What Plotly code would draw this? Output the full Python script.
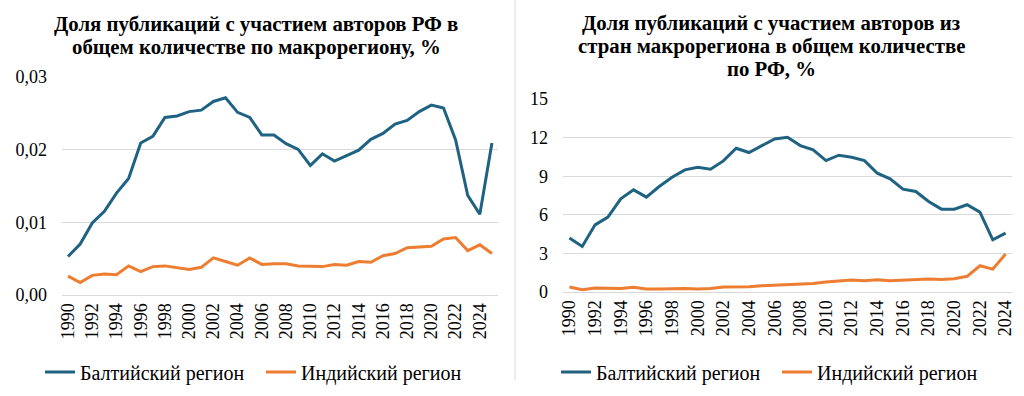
import plotly.graph_objects as go

W, H = 1024, 396

years_left = list(range(1990, 2026))
years_right = list(range(1990, 2025))

baltic_left = [0.0053, 0.0070, 0.0099, 0.0115, 0.0140, 0.0160, 0.0209, 0.0218, 0.0244, 0.0246,
               0.0252, 0.0254, 0.0266, 0.0271, 0.0251, 0.0244, 0.0220, 0.0220, 0.0208, 0.0200,
               0.0178, 0.0194, 0.0184, 0.0191, 0.0199, 0.0214, 0.0222, 0.0235, 0.0240, 0.0252,
               0.0261, 0.0257, 0.0213, 0.0137, 0.0111, 0.0209]
indian_left = [0.0026, 0.0017, 0.0027, 0.0029, 0.0028, 0.0040, 0.0032, 0.0039, 0.0040, 0.0038,
               0.0035, 0.0038, 0.0051, 0.0046, 0.0041, 0.0051, 0.0042, 0.0043, 0.0043, 0.0040,
               0.0040, 0.0039, 0.0042, 0.0041, 0.0046, 0.0045, 0.0054, 0.0057, 0.0065, 0.0066,
               0.0067, 0.0077, 0.0079, 0.0061, 0.0069, 0.0057]

baltic_right = [4.19, 3.54, 5.22, 5.82, 7.24, 7.94, 7.37, 8.20, 8.92, 9.49,
                9.70, 9.54, 10.19, 11.17, 10.84, 11.40, 11.90, 12.03, 11.38, 11.04,
                10.21, 10.63, 10.47, 10.21, 9.23, 8.79, 7.99, 7.81, 7.03, 6.44,
                6.44, 6.78, 6.21, 4.06, 4.58]
indian_right = [0.39, 0.18, 0.31, 0.31, 0.28, 0.36, 0.24, 0.24, 0.28, 0.28,
                0.24, 0.28, 0.39, 0.41, 0.41, 0.49, 0.54, 0.59, 0.65, 0.67,
                0.78, 0.83, 0.93, 0.88, 0.96, 0.88, 0.93, 0.93, 1.01, 0.98,
                1.03, 1.22, 2.04, 1.78, 2.95]

x_tickvals = list(range(1990, 2025, 2))
x_ticktext = [str(y) for y in x_tickvals]
left_y_tickvals = [0, 0.01, 0.02, 0.03]
left_y_ticktext = ["0,00", "0,01", "0,02", "0,03"]
right_y_tickvals = [0, 3, 6, 9, 12, 15]
right_y_ticktext = ["0", "3", "6", "9", "12", "15"]

series_names = ["Балтийский регион", "Индийский регион"]
colors = ["#1F6282", "#ED7D31"]

title_left = ["Доля публикаций с участием авторов РФ в",
              "общем количестве по макрорегиону, %"]
title_right = ["Доля публикаций с участием авторов из",
               "стран макрорегиона в общем количестве",
               "по РФ, %"]

FONT = "'Liberation Serif', 'Times New Roman', Times, 'DejaVu Serif', serif"

fig = go.Figure()

fig.add_trace(go.Scatter(x=years_left, y=baltic_left, name=series_names[0], mode="lines",
                         line=dict(color=colors[0], width=3), xaxis="x", yaxis="y", legend="legend"))
fig.add_trace(go.Scatter(x=years_left, y=indian_left, name=series_names[1], mode="lines",
                         line=dict(color=colors[1], width=3), xaxis="x", yaxis="y", legend="legend"))
fig.add_trace(go.Scatter(x=years_right, y=baltic_right, name=series_names[0], mode="lines",
                         line=dict(color=colors[0], width=3), xaxis="x2", yaxis="y2", legend="legend2"))
fig.add_trace(go.Scatter(x=years_right, y=indian_right, name=series_names[1], mode="lines",
                         line=dict(color=colors[1], width=3), xaxis="x2", yaxis="y2", legend="legend2"))

def px_x(p):
    return p / W

def px_y(p):
    return (H - p) / H

grid = "#D9D9D9"
tickfont = dict(family=FONT, size=18, color="#000000")

common_x = dict(tickmode="array", tickvals=x_tickvals, ticktext=x_ticktext, tickangle=-90,
                showgrid=False, zeroline=False, showline=True, linecolor=grid, linewidth=1,
                ticks="", tickfont=tickfont, fixedrange=True, automargin=False)
common_y = dict(tickmode="array", showgrid=True, gridcolor=grid, gridwidth=1, zeroline=False,
                showline=False, ticks="", tickfont=tickfont, fixedrange=True, automargin=False)

legend_common = dict(orientation="h", xanchor="left", yanchor="middle",
                     font=dict(family=FONT, size=20, color="#000000"),
                     entrywidth=176, entrywidthmode="pixels", bgcolor="rgba(0,0,0,0)")

fig.update_layout(
    width=W, height=H, autosize=False,
    margin=dict(l=0, r=0, t=0, b=0, pad=0, autoexpand=False),
    paper_bgcolor="white", plot_bgcolor="white",
    font=dict(family=FONT, size=18, color="#000000"),
    xaxis=dict(domain=[px_x(62), px_x(498)], range=[1989.5, 2025.5], anchor="y", **common_x),
    yaxis=dict(domain=[px_y(295), px_y(76.7)], range=[0, 0.03], anchor="x",
               tickvals=left_y_tickvals, ticktext=left_y_ticktext, ticklabelstandoff=14, **common_y),
    xaxis2=dict(domain=[px_x(563), px_x(1012)], range=[1989.5, 2024.5], anchor="y2", **common_x),
    yaxis2=dict(domain=[px_y(292), px_y(99)], range=[0, 15], anchor="x2",
                tickvals=right_y_tickvals, ticktext=right_y_ticktext, ticklabelstandoff=14, **common_y),
    legend=dict(x=px_x(40), y=px_y(372), **legend_common),
    legend2=dict(x=px_x(556), y=px_y(372), **legend_common),
    showlegend=True,
)

annotations = []
left_ys = [24, 47]
for txt, yy in zip(title_left, left_ys):
    annotations.append(dict(text="<b>" + txt + "</b>", x=px_x(256), y=px_y(yy), xref="paper", yref="paper",
                            xanchor="center", yanchor="middle", showarrow=False,
                            font=dict(family=FONT, size=20.8, color="#000000")))
right_ys = [23, 46, 68]
for txt, yy in zip(title_right, right_ys):
    annotations.append(dict(text="<b>" + txt + "</b>", x=px_x(771), y=px_y(yy), xref="paper", yref="paper",
                            xanchor="center", yanchor="middle", showarrow=False,
                            font=dict(family=FONT, size=20.8, color="#000000")))
fig.update_layout(annotations=annotations)

fig.add_shape(type="line", xref="paper", yref="paper", x0=px_x(515), x1=px_x(515), y0=px_y(0), y1=px_y(380),
              line=dict(color="#D9D9D9", width=1))

fig.write_html("out.html", config={"displayModeBar": False, "staticPlot": True},
               post_script="document.body.style.margin='0';document.body.style.padding='0';"
                           "document.body.style.overflow='hidden';")
